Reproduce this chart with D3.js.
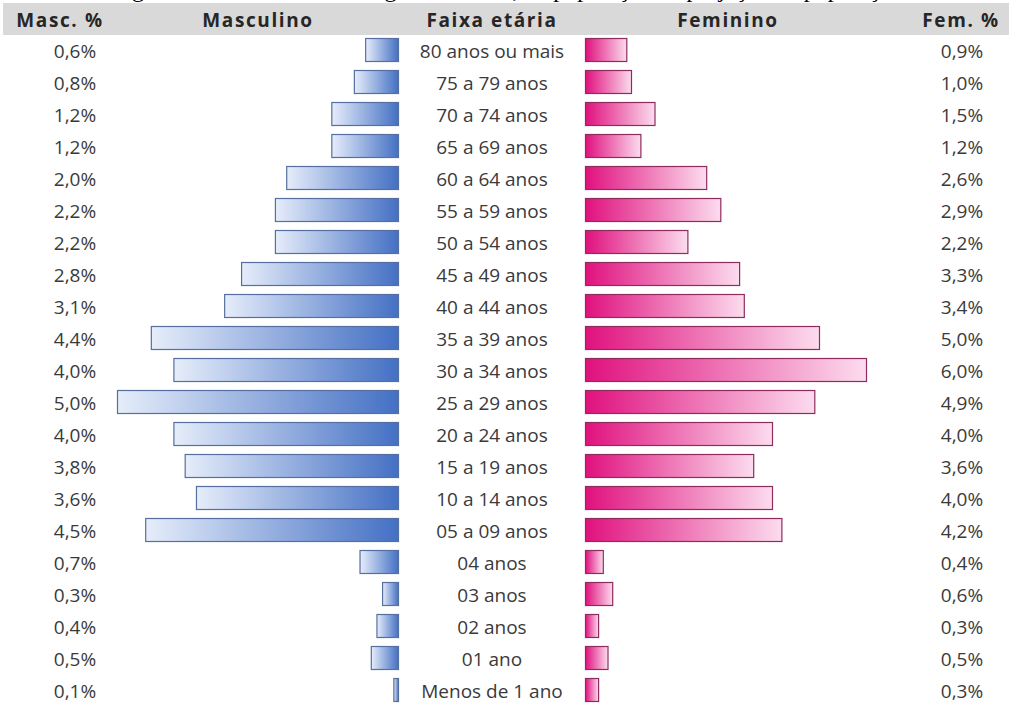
<!DOCTYPE html>
<html lang="pt-BR">
<head>
<meta charset="utf-8">
<script src="https://cdn.jsdelivr.net/npm/d3@7"></script>
<style>
  html, body { margin: 0; padding: 0; background: #ffffff; }
  svg { display: block; }
</style>
</head>
<body>
<svg id="chart" width="1009" height="704"></svg>
<script>
// Faixas etárias (de cima para baixo)
const faixas = [
  "80 anos ou mais", "75 a 79 anos", "70 a 74 anos", "65 a 69 anos",
  "60 a 64 anos", "55 a 59 anos", "50 a 54 anos", "45 a 49 anos",
  "40 a 44 anos", "35 a 39 anos", "30 a 34 anos", "25 a 29 anos",
  "20 a 24 anos", "15 a 19 anos", "10 a 14 anos", "05 a 09 anos",
  "04 anos", "03 anos", "02 anos", "01 ano", "Menos de 1 ano"
];

// Percentual da população masculina por faixa
const masculino = [0.6, 0.8, 1.2, 1.2, 2.0, 2.2, 2.2, 2.8, 3.1, 4.4, 4.0,
                   5.0, 4.0, 3.8, 3.6, 4.5, 0.7, 0.3, 0.4, 0.5, 0.1];

// Percentual da população feminina por faixa
const feminino = [0.9, 1.0, 1.5, 1.2, 2.6, 2.9, 2.2, 3.3, 3.4, 5.0, 6.0,
                  4.9, 4.0, 3.6, 4.0, 4.2, 0.4, 0.6, 0.3, 0.5, 0.3];

// Cabeçalhos das colunas
const cabecalhos = ["Masc. %", "Masculino", "Faixa etária", "Feminino", "Fem. %"];

const titulo = "Figura 7 - Pirâmide etária segundo o sexo, da população de projeção da população";

const fmt = v => d3.format(".1f")(v).replace(".", ",") + "%";

const svg = d3.select("#chart");
const font = "'Open Sans', 'DejaVu Sans', sans-serif";

// Gradientes das barras de dados
const defs = svg.append("defs");
const gM = defs.append("linearGradient").attr("id", "gradMasc")
  .attr("x1", "0%").attr("x2", "100%").attr("y1", "0%").attr("y2", "0%");
gM.append("stop").attr("offset", "0%").attr("stop-color", "#e6edfa");
gM.append("stop").attr("offset", "100%").attr("stop-color", "#4470c4");

const gF = defs.append("linearGradient").attr("id", "gradFem")
  .attr("x1", "0%").attr("x2", "100%").attr("y1", "0%").attr("y2", "0%");
gF.append("stop").attr("offset", "0%").attr("stop-color", "#e0117e");
gF.append("stop").attr("offset", "100%").attr("stop-color", "#fcdcee");

// Título (linha superior, quase toda acima da área visível)
svg.append("text")
  .attr("x", 112).attr("y", -3)
  .attr("font-family", "'Liberation Serif', 'Times New Roman', serif")
  .attr("font-size", 24)
  .attr("fill", "#000")
  .text(titulo);

// Faixa cinza do cabeçalho
svg.append("rect")
  .attr("x", 3).attr("y", 3).attr("width", 1006).attr("height", 32)
  .attr("fill", "#d9d9d9");

const headX = [60, 258, 492, 728, 961];
svg.append("g").selectAll("text")
  .data(cabecalhos)
  .join("text")
  .attr("x", (d, i) => headX[i])
  .attr("y", 27)
  .attr("text-anchor", "middle")
  .attr("font-family", font)
  .attr("font-weight", "bold")
  .attr("font-size", 19)
  .attr("letter-spacing", 1.6)
  .attr("fill", "#262626")
  .text(d => d);

// Escalas
const y = d3.scaleBand()
  .domain(faixas)
  .range([34, 34 + 32 * faixas.length])
  .paddingInner(0.25)
  .paddingOuter(0.125);

const xM = d3.scaleLinear().domain([0, d3.max(masculino)]).range([399, 117]);
const xF = d3.scaleLinear().domain([0, d3.max(feminino)]).range([585, 867]);

// Barras masculinas
svg.append("g").selectAll("rect")
  .data(faixas)
  .join("rect")
  .attr("x", (d, i) => xM(masculino[i]) + 0.5)
  .attr("y", d => y(d) + 0.5)
  .attr("width", (d, i) => xM(0) - xM(masculino[i]) - 1)
  .attr("height", y.bandwidth() - 1)
  .attr("fill", "url(#gradMasc)")
  .attr("stroke", "#55709f")
  .attr("stroke-width", 1.2);

// Barras femininas
svg.append("g").selectAll("rect")
  .data(faixas)
  .join("rect")
  .attr("x", xF(0) + 0.5)
  .attr("y", d => y(d) + 0.5)
  .attr("width", (d, i) => xF(feminino[i]) - xF(0) - 1)
  .attr("height", y.bandwidth() - 1)
  .attr("fill", "url(#gradFem)")
  .attr("stroke", "#8e2c5e")
  .attr("stroke-width", 1.2);

const rowText = (sel) => sel
  .attr("font-family", font)
  .attr("font-size", 19)
  .attr("fill", "#3a3a3a");

const baseY = d => y(d) + y.bandwidth() / 2 + 7.5;

// Rótulos das faixas
svg.append("g").selectAll("text")
  .data(faixas)
  .join("text")
  .attr("x", 492)
  .attr("y", baseY)
  .attr("text-anchor", "middle")
  .call(rowText)
  .text(d => d);

// Percentuais masculinos
svg.append("g").selectAll("text")
  .data(faixas)
  .join("text")
  .attr("x", 75)
  .attr("y", baseY)
  .attr("text-anchor", "middle")
  .call(rowText)
  .text((d, i) => fmt(masculino[i]));

// Percentuais femininos
svg.append("g").selectAll("text")
  .data(faixas)
  .join("text")
  .attr("x", 962)
  .attr("y", baseY)
  .attr("text-anchor", "middle")
  .call(rowText)
  .text((d, i) => fmt(feminino[i]));
</script>
</body>
</html>
